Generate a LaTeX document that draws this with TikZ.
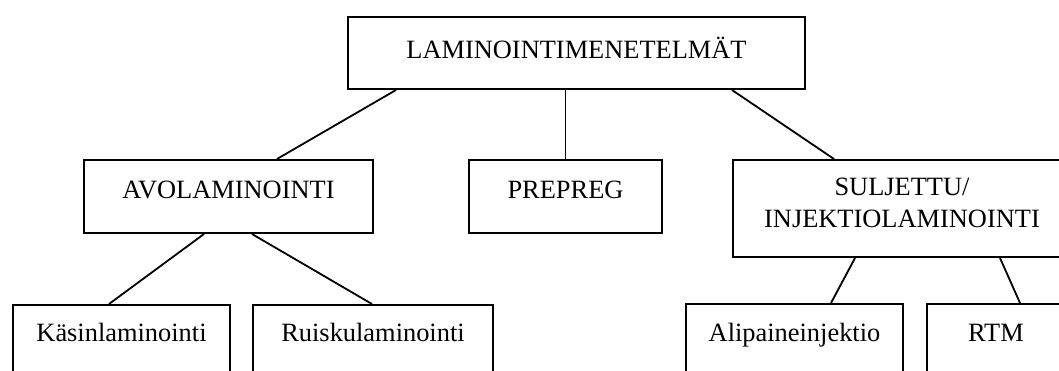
\documentclass[tikz,border=0pt]{standalone}
\usepackage{fontspec}
\setmainfont{Liberation Serif}
\begin{document}
\begin{tikzpicture}[x=1pt,y=-1pt,
  box/.style={draw, line width=2pt, inner sep=0pt, anchor=north west,
    font=\fontsize{26.4}{32.75}\selectfont},
  link/.style={line width=1.8pt}]
\useasboundingbox (0,0) rectangle (1059,370);
\clip (0,0) rectangle (1059,370);
\node[box, minimum width=457pt, text height=41pt, text depth=31pt] (top) at (347,16) {LAMINOINTIMENETELMÄT};
\node[box, minimum width=289pt, text height=38pt, text depth=35pt] (avo) at (83,159) {AVOLAMINOINTI};
\node[box, minimum width=193pt, text height=38pt, text depth=35pt] (prepreg) at (468,159) {PREPREG};
\node[box, minimum width=338pt, text height=35pt, text depth=62pt] (sulj) at (732,159) {\begin{tabular}[t]{@{}c@{}}SULJETTU/\\INJEKTIOLAMINOINTI\end{tabular}};
\node[box, minimum width=217pt, text height=36pt, text depth=64pt] (kasin) at (12,304) {Käsinlaminointi};
\node[box, minimum width=240pt, text height=36pt, text depth=64pt] (ruisku) at (252,304) {Ruiskulaminointi};
\node[box, minimum width=217pt, text height=37pt, text depth=64pt] (ali) at (685,303) {Alipaineinjektio};
\node[box, minimum width=138pt, text height=37pt, text depth=64pt] (rtm) at (926,303) {RTM};
\draw[link] ([xshift=49pt]top.south west) -- ([xshift=194pt]avo.north west);
\draw[link] (prepreg.north |- top.south) -- (prepreg.north);
\draw[link] ([xshift=385pt]top.south west) -- ([xshift=102pt]sulj.north west);
\draw[link] ([xshift=121pt]avo.south west) -- ([xshift=97pt]kasin.north west);
\draw[link] ([xshift=169pt]avo.south west) -- ([xshift=120pt]ruisku.north west);
\draw[link] ([xshift=123pt]sulj.south west) -- ([xshift=146pt]ali.north west);
\draw[link] ([xshift=268pt]sulj.south west) -- ([xshift=94pt]rtm.north west);
\end{tikzpicture}
\end{document}
